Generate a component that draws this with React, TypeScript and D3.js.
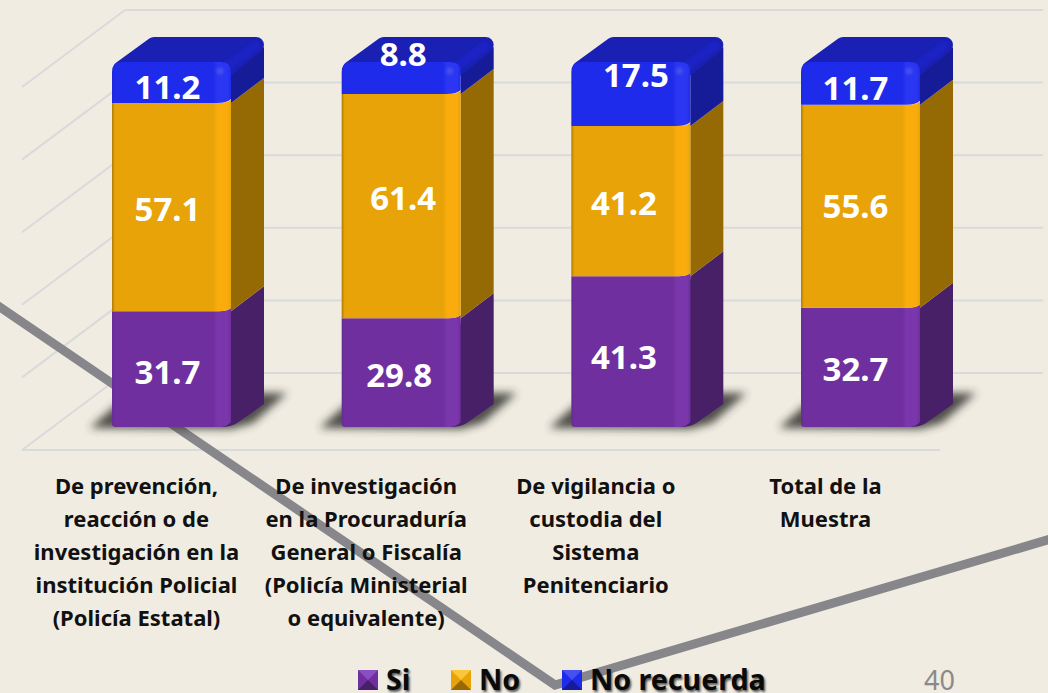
import React from "react";
import * as d3 from "d3";

const categories = ["prevencion", "investigacion", "vigilancia", "total"];
const categoryLines = [
  ["De prevención,", "reacción o de", "investigación en la", "institución Policial", "(Policía Estatal)"],
  ["De investigación", "en la Procuraduría", "General o Fiscalía", "(Policía Ministerial", "o equivalente)"],
  ["De vigilancia o", "custodia del", "Sistema", "Penitenciario"],
  ["Total de la", "Muestra"],
];
const si = [31.7, 29.8, 41.3, 32.7];
const no = [57.1, 61.4, 41.2, 55.6];
const noRecuerda = [11.2, 8.8, 17.5, 11.7];
const seriesNames = ["Si", "No", "No recuerda"];
const gridLevels = [0, 20, 40, 60, 80, 100];
const pageNumber = "40";

const W = 1048, H = 693;
const FONT = "'Noto Sans', Lato, sans-serif";
const palette = [
  { front: "#6f2f9f", hi: "#7a37ab", side: "#482068", top: "#5a2884", light: "#8a4fc0" },
  { front: "#e8a308", hi: "#f9ac0c", side: "#956a05", top: "#b07f06", light: "#fbc63a" },
  { front: "#1f2bea", hi: "#2a36f2", side: "#161c98", top: "#1a20b4", light: "#4650ee" },
];
const seriesValues = [si, no, noRecuerda];
// hand offsets of the value labels from their segment centres (dx, dy)
const labelShift = [
  [[-4, 2], [-4, 1], [-4, 4]],
  [[-2, 2], [2, -9], [2, -25]],
  [[-7, 5], [-7, 1], [5, -19]],
  [[-5, 1], [-5, -1], [-5, 4]],
];

const x = d3.scaleBand<string>().domain(categories).range([112, 112 + 229.67 * 4]);
const barW = 119;
const y = d3.scaleLinear().domain([0, 100]).range([427, 62]);
const gridBack = d3.scaleLinear().domain([0, 100]).range([373, 10]);
const gridFront = d3.scaleLinear().domain([0, 100]).range([450, 87]);
const depthX = 33, depthY = -25;

const line = d3.line();
const poly = (pts: [number, number][]) => line(pts) + "Z";

function App() {
  const stacks = d3.stack<number>().keys([0, 1, 2] as any).value((i: number, k: any) => seriesValues[k][i])(
    categories.map((_, i) => i) as any
  );
  return (
    <svg
      width={W}
      height={H}
      viewBox={`0 0 ${W} ${H}`}
      style={{ position: "absolute", left: 0, top: 0, background: "#f0ece1", fontFamily: FONT }}
    >
      <defs>
        <filter id="shadow" x="-30%" y="-60%" width="160%" height="220%">
          <feGaussianBlur stdDeviation="4" />
        </filter>
        <filter id="textShadow" x="-10%" y="-30%" width="120%" height="160%">
          <feGaussianBlur stdDeviation="1" />
        </filter>
        <filter id="soft" x="-30%" y="-60%" width="160%" height="220%">
          <feGaussianBlur stdDeviation="1.5" />
        </filter>
        {palette.map((p, i) => (
          <linearGradient key={i} id={`face${i}`} x1="0" x2="1" y1="0" y2="0">
            <stop offset="0" stopColor={d3.color(p.front)!.darker(i === 1 ? 0.8 : 0.2).formatHex()} />
            <stop offset="0.025" stopColor={p.front} />
            <stop offset="0.85" stopColor={p.front} />
            <stop offset="0.885" stopColor={p.hi} />
            <stop offset="0.97" stopColor={p.hi} />
            <stop offset="1" stopColor={p.front} />
          </linearGradient>
        ))}
      </defs>

      {/* walls */}
      <g stroke="#d9dadb" strokeWidth={2} fill="none">
        {gridLevels.map((g) => (
          <g key={g}>
            <line x1={22} y1={gridFront(g)} x2={125} y2={gridBack(g)} />
            <line x1={125} y1={gridBack(g)} x2={1043} y2={gridBack(g)} />
          </g>
        ))}
        <line x1={22} y1={gridFront(0)} x2={940} y2={gridFront(0)} />
      </g>

      {/* slide decoration */}
      <path d="M-6,303L555,685L1054,538" fill="none" stroke="#87868b" strokeWidth={9} />

      {/* floor shadows */}
      {categories.map((c) => {
        const x0 = x(c)!;
        return (
          <path
            key={c}
            d={poly([
              [x0 - 22, 428],
              [x0 + 4, 405],
              [x0 + barW + 2, 393],
              [x0 + barW + 56, 393],
              [x0 + barW + 22, 423],
              [x0 + barW, 429],
            ])}
            fill="#33332f"
            opacity={0.85}
            filter="url(#shadow)"
          />
        );
      })}

      {/* bars */}
      {categories.map((c, i) => {
        const x0 = x(c)!;
        const x1 = x0 + barW;
        const tx = x0 + barW / 2;
        return (
          <g key={c}>
            {stacks.map((s, k) => {
              const yb = y(s[i][0]);
              const yt = y(s[i][1]);
              const p = palette[k];
              const isTop = k === 2;
              const r = 10;
              return (
                <g key={k}>
                  <path
                    d={
                      isTop
                        ? `M${x1},${yb}L${x1 + depthX},${yb + depthY}L${x1 + depthX},${yt + depthY + r}L${x1},${yt + 10}Z`
                        : k === 0
                        ? `M${x1 - 10},${yb}Q${x1},${yb} ${x1 + 6},${yb - 4}L${x1 + depthX},${yb + depthY + 2}L${x1 + depthX},${yt + depthY}L${x1},${yt}Z`
                        : poly([[x1, yb], [x1 + depthX, yb + depthY], [x1 + depthX, yt + depthY], [x1, yt]])
                    }
                    fill={p.side}
                  />
                  {isTop && (
                    <>
                      {/* top face: rounded parallelogram */}
                      <path
                        d={poly([
                          [x0 + 9, yt + 7],
                          [x0 + depthX + 9, yt + depthY + 8],
                          [x1 + depthX - 8, yt + depthY + 8],
                          [x1 - 6, yt + 8],
                        ])}
                        fill={p.top}
                        stroke={p.top}
                        strokeWidth={16}
                        strokeLinejoin="round"
                      />
                      <line
                        x1={x1 - 3}
                        y1={yt + 4}
                        x2={x1 + depthX - 9}
                        y2={yt + depthY + 9}
                        stroke="#1b24c6"
                        strokeWidth={8}
                        strokeLinecap="round"
                        filter="url(#soft)"
                      />
                    </>
                  )}
                  <path
                    d={
                      isTop
                        ? `M${x0},${yb}L${x0},${yt + r}Q${x0},${yt} ${x0 + r},${yt}L${x1 - r},${yt}Q${x1},${yt} ${x1},${yt + r}L${x1},${yb - 4}Q${x1 - 4},${yb} ${x1 - 14},${yb}Z`
                        : k === 0
                        ? `M${x0},${yb - 3}L${x0},${yt}L${x1 - 12},${yt}Q${x1 - 4},${yt} ${x1},${yt - 3}L${x1},${yb - 5}Q${x1 - 4},${yb} ${x1 - 12},${yb}L${x0 + 4},${yb}Q${x0},${yb} ${x0},${yb - 3}Z`
                        : `M${x0},${yb}L${x0},${yt}L${x1 - 12},${yt}Q${x1 - 4},${yt} ${x1},${yt - 3}L${x1},${yb - 3}Q${x1 - 4},${yb} ${x1 - 12},${yb}Z`
                    }
                    fill={`url(#face${k})`}
                  />
                  {isTop && (
                    <circle cx={x1 - 11} cy={yt + 9} r={3.5} fill={p.light} filter="url(#soft)" />
                  )}
                </g>
              );
            })}
            {stacks.map((s, k) => {
              const [dx, dy] = labelShift[i][k];
              return (
                <text
                  key={k}
                  x={tx + dx}
                  y={(y(s[i][0]) + y(s[i][1])) / 2 + dy}
                  textAnchor="middle"
                  dominantBaseline="central"
                  fill="#ffffff"
                  fontWeight={700}
                  fontSize={33}
                >
                  {seriesValues[k][i].toFixed(1)}
                </text>
              );
            })}
            {categoryLines[i].map((t, j) => (
              <text
                key={j}
                x={tx - 35}
                y={485 + j * 33}
                textAnchor="middle"
                dominantBaseline="central"
                fill="#111111"
                fontWeight={700}
                fontSize={22}
              >
                {t}
              </text>
            ))}
          </g>
        );
      })}

      {/* legend */}
      {seriesNames.map((n, k) => {
        const lx = [358, 451, 562][k];
        const p = palette[k];
        const s = 20;
        const ly = 670;
        const c: [number, number] = [lx + s / 2, ly + s / 2];
        return (
          <g key={n}>
            <rect x={lx} y={ly} width={s} height={s} fill={p.front} />
            <path d={poly([[lx, ly], [lx + s, ly], c])} fill={p.light} />
            <path d={poly([[lx, ly + s], [lx + s, ly + s], c])} fill={p.side} />
            <text x={lx + 28} y={690} fill="#555" fontWeight={700} fontSize={28.6} filter="url(#textShadow)" transform="translate(1.5,1.5)">{n}</text>
            <text x={lx + 28} y={690} fill="#0a0a0a" fontWeight={700} fontSize={28.6}>{n}</text>
          </g>
        );
      })}
      <text x={924} y={690} fill="#8a8a8a" fontSize={27}>{pageNumber}</text>
    </svg>
  );
}

export default App;
